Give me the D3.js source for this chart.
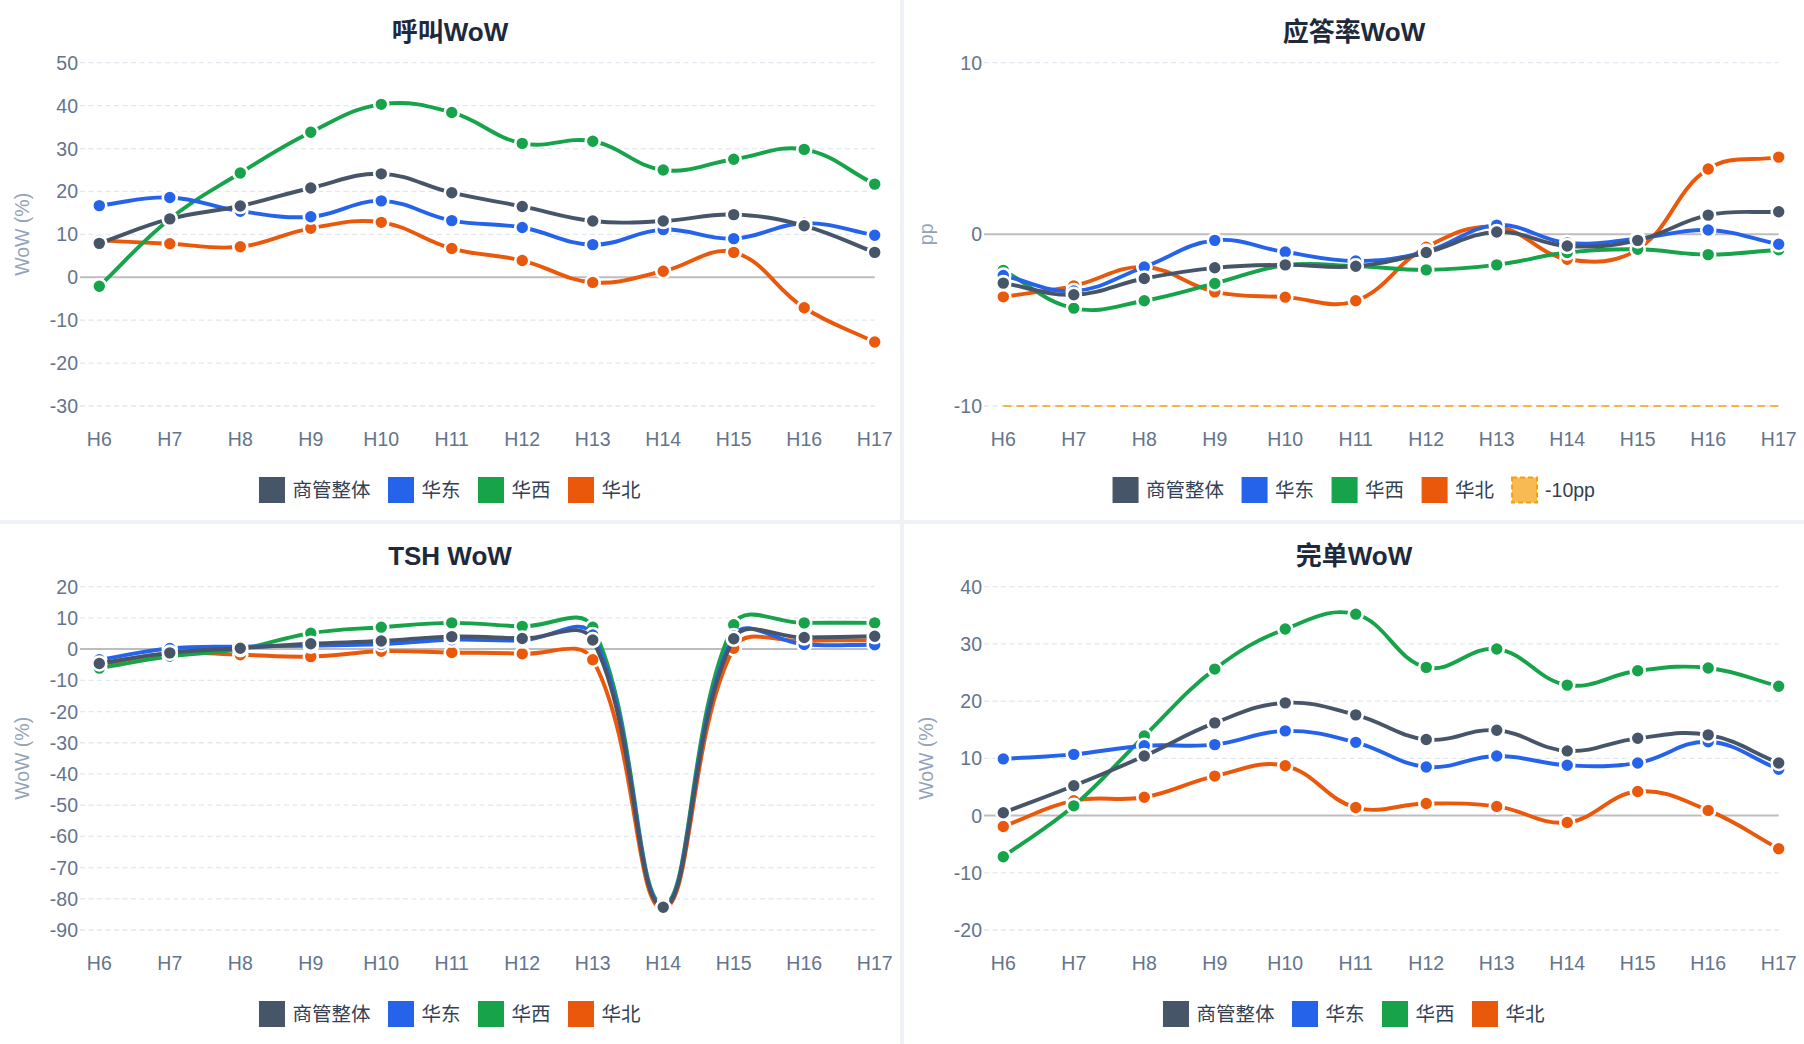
<!DOCTYPE html>
<html>
<head>
<meta charset="utf-8">
<script src="https://cdn.jsdelivr.net/npm/d3@7"></script>
<style>
  html, body { margin: 0; padding: 0; background: #eef2f7; }
  svg { display: block; font-family: "Liberation Sans", Arial, "Noto Sans CJK SC", sans-serif; }
</style>
</head>
<body>
<svg id="chart" width="1804" height="1044"></svg>
<script>
const hours = ['H6', 'H7', 'H8', 'H9', 'H10', 'H11', 'H12', 'H13', 'H14', 'H15', 'H16', 'H17'];
const seriesNames = ['商管整体', '华东', '华西', '华北'];

// 呼叫WoW (%)
const callOverall = [7.9, 13.6, 16.6, 20.8, 24.1, 19.7, 16.5, 13.1, 13.1, 14.6, 12.0, 5.8];
const callEast    = [16.7, 18.6, 15.4, 14.1, 17.8, 13.2, 11.6, 7.6, 11.1, 9.0, 12.6, 9.8];
const callWest    = [-2.1, 13.6, 24.3, 33.8, 40.3, 38.4, 31.2, 31.7, 25.0, 27.5, 29.8, 21.7];
const callNorth   = [8.6, 7.8, 7.1, 11.4, 12.8, 6.7, 3.9, -1.2, 1.4, 5.8, -7.1, -15.1];

// 应答率WoW (pp)
const answerOverall = [-2.84, -3.52, -2.57, -1.95, -1.78, -1.86, -1.06, 0.14, -0.68, -0.35, 1.12, 1.32];
const answerEast    = [-2.4, -3.3, -1.9, -0.35, -1.03, -1.55, -1.0, 0.54, -0.5, -0.25, 0.25, -0.58];
const answerWest    = [-2.1, -4.3, -3.87, -2.86, -1.8, -1.85, -2.07, -1.78, -1.06, -0.87, -1.18, -0.9];
const answerNorth   = [-3.64, -3.0, -1.9, -3.35, -3.66, -3.87, -0.75, 0.43, -1.45, -0.87, 3.81, 4.5];
const answerFloor   = [-10, -10, -10, -10, -10, -10, -10, -10, -10, -10, -10, -10];

// TSH WoW (%)
const tshOverall = [-4.6, -1.2, 0.3, 1.7, 2.6, 4.0, 3.4, 2.9, -82.7, 3.3, 3.7, 4.1];
const tshEast    = [-3.4, 0.2, 0.8, 1.1, 1.6, 3.0, 2.8, 4.5, -82.3, 4.2, 1.5, 1.4];
const tshWest    = [-6.1, -2.3, 0.0, 5.1, 7.0, 8.4, 7.3, 7.0, -81.8, 7.8, 8.4, 8.4];
const tshNorth   = [-5.0, -1.4, -1.8, -2.4, -0.7, -1.1, -1.5, -3.4, -83.3, 0.3, 2.6, 2.8];

// 完单WoW (%)
const doneOverall = [0.5, 5.2, 10.4, 16.2, 19.7, 17.6, 13.3, 14.9, 11.3, 13.5, 14.1, 9.2];
const doneEast    = [9.9, 10.7, 12.2, 12.4, 14.8, 12.8, 8.5, 10.4, 8.8, 9.2, 12.9, 8.1];
const doneWest    = [-7.2, 1.7, 13.9, 25.6, 32.6, 35.2, 25.9, 29.1, 22.8, 25.3, 25.8, 22.6];
const doneNorth   = [-1.9, 2.6, 3.2, 6.9, 8.7, 1.4, 2.1, 1.6, -1.2, 4.2, 0.9, -5.8];

const seriesColors = ['#475569', '#2563eb', '#16a34a', '#ea580c'];

const charts = [
  { title: '呼叫WoW', yTitle: 'WoW (%)', domain: [-30, 50], ticks: [-30, -20, -10, 0, 10, 20, 30, 40, 50],
    series: [callOverall, callEast, callWest, callNorth], ox: 0, oy: 0 },
  { title: '应答率WoW', yTitle: 'pp', domain: [-10, 10], ticks: [-10, 0, 10],
    series: [answerOverall, answerEast, answerWest, answerNorth], floor: answerFloor, ox: 904, oy: 0 },
  { title: 'TSH WoW', yTitle: 'WoW (%)', domain: [-90, 20], ticks: [-90, -80, -70, -60, -50, -40, -30, -20, -10, 0, 10, 20],
    series: [tshOverall, tshEast, tshWest, tshNorth], ox: 0, oy: 524 },
  { title: '完单WoW', yTitle: 'WoW (%)', domain: [-20, 40], ticks: [-20, -10, 0, 10, 20, 30, 40],
    series: [doneOverall, doneEast, doneWest, doneNorth], ox: 904, oy: 524 }
];

const panelW = 900, panelH = 520;
const gridLeft = 80, plotLeft = 99.3, plotRight = 874.7, plotTop = 62.7, plotBottom = 406;

const svg = d3.select('#chart');

// Chart.js style spline (tension 0.4)
function splinePath(pts, tension) {
  const n = pts.length;
  const cps = pts.map((p, i) => {
    const prev = pts[i - 1] || p, next = pts[i + 1] || p;
    const d01 = Math.hypot(p[0] - prev[0], p[1] - prev[1]);
    const d12 = Math.hypot(next[0] - p[0], next[1] - p[1]);
    let s01 = d01 / (d01 + d12), s12 = d12 / (d01 + d12);
    if (!isFinite(s01)) s01 = 0;
    if (!isFinite(s12)) s12 = 0;
    const fa = tension * s01, fb = tension * s12;
    return {
      prev: [p[0] - fa * (next[0] - prev[0]), p[1] - fa * (next[1] - prev[1])],
      next: [p[0] + fb * (next[0] - prev[0]), p[1] + fb * (next[1] - prev[1])]
    };
  });
  const path = d3.path();
  path.moveTo(pts[0][0], pts[0][1]);
  for (let i = 1; i < n; i++) {
    const c1 = cps[i - 1].next, c2 = cps[i].prev;
    path.bezierCurveTo(c1[0], c1[1], c2[0], c2[1], pts[i][0], pts[i][1]);
  }
  return path.toString();
}

charts.forEach(cfg => {
  const g = svg.append('g').attr('transform', `translate(${cfg.ox},${cfg.oy})`);
  g.append('rect').attr('width', panelW).attr('height', panelH).attr('fill', '#ffffff');

  const x = d3.scalePoint().domain(hours).range([plotLeft, plotRight]);
  const y = d3.scaleLinear().domain(cfg.domain).range([plotBottom, plotTop]);

  // title
  g.append('text')
    .attr('x', panelW / 2).attr('y', 31.5)
    .attr('text-anchor', 'middle').attr('dominant-baseline', 'central')
    .attr('font-size', 26).attr('font-weight', 'bold').attr('fill', '#1e293b')
    .text(cfg.title);

  // grid
  cfg.ticks.forEach(t => {
    const zero = t === 0;
    g.append('line')
      .attr('x1', gridLeft).attr('x2', plotRight)
      .attr('y1', y(t)).attr('y2', y(t))
      .attr('stroke', zero ? '#bdbdbd' : '#e2e8f0')
      .attr('stroke-width', zero ? 2 : 1.3)
      .attr('stroke-dasharray', zero ? null : '5,3.5');
    g.append('text')
      .attr('x', 78).attr('y', y(t))
      .attr('text-anchor', 'end').attr('dominant-baseline', 'central')
      .attr('font-size', 19.5).attr('fill', '#64748b')
      .text(t);
  });

  // x labels
  hours.forEach(h => {
    g.append('text')
      .attr('x', x(h)).attr('y', 438.5)
      .attr('text-anchor', 'middle').attr('dominant-baseline', 'central')
      .attr('font-size', 19.5).attr('fill', '#64748b')
      .text(h);
  });

  // y title
  g.append('text')
    .attr('transform', `translate(22,${(plotTop + plotBottom) / 2}) rotate(-90)`)
    .attr('text-anchor', 'middle').attr('dominant-baseline', 'central')
    .attr('font-size', 19.5).attr('fill', '#94a3b8')
    .text(cfg.yTitle);

  // threshold line
  if (cfg.floor) {
    g.append('path')
      .attr('d', d3.line().x((d, i) => x(hours[i])).y(d => y(d))(cfg.floor))
      .attr('fill', 'none').attr('stroke', 'rgba(245,158,11,0.75)')
      .attr('stroke-width', 2).attr('stroke-dasharray', '8,5');
  }

  // series: last dataset first so the first one sits on top
  for (let si = cfg.series.length - 1; si >= 0; si--) {
    const vals = cfg.series[si];
    const pts = vals.map((v, i) => [x(hours[i]), y(v)]);
    const sg = g.append('g');
    sg.append('path')
      .attr('d', splinePath(pts, 0.4))
      .attr('fill', 'none').attr('stroke', seriesColors[si])
      .attr('stroke-width', 3.9).attr('stroke-linejoin', 'round');
    sg.selectAll('circle').data(pts).join('circle')
      .attr('cx', d => d[0]).attr('cy', d => d[1]).attr('r', 7)
      .attr('fill', seriesColors[si]).attr('stroke', '#ffffff').attr('stroke-width', 2.6);
  }

  // legend
  const items = seriesNames.map((n, i) => ({ name: n, color: seriesColors[i] }));
  if (cfg.floor) items.push({ name: '-10pp', color: 'rgba(245,158,11,0.7)', dashed: true });
  const lg = g.append('g');
  let cx = 0;
  items.forEach(it => {
    const ig = lg.append('g').attr('transform', `translate(${cx},0)`);
    ig.append('rect')
      .attr('x', 0).attr('y', -12.5).attr('width', 25).attr('height', 25)
      .attr('fill', it.color)
      .attr('stroke', it.dashed ? '#f59e0b' : it.color)
      .attr('stroke-width', it.dashed ? 2 : 1)
      .attr('stroke-dasharray', it.dashed ? '5,3' : null);
    const tx = ig.append('text')
      .attr('x', 33).attr('y', 0)
      .attr('dominant-baseline', 'central')
      .attr('font-size', 19.5).attr('fill', '#334155')
      .text(it.name);
    cx += 33 + tx.node().getComputedTextLength() + 18;
  });
  const lw = cx - 18;
  lg.attr('transform', `translate(${panelW / 2 - lw / 2},490)`);
});
</script>
</body>
</html>
